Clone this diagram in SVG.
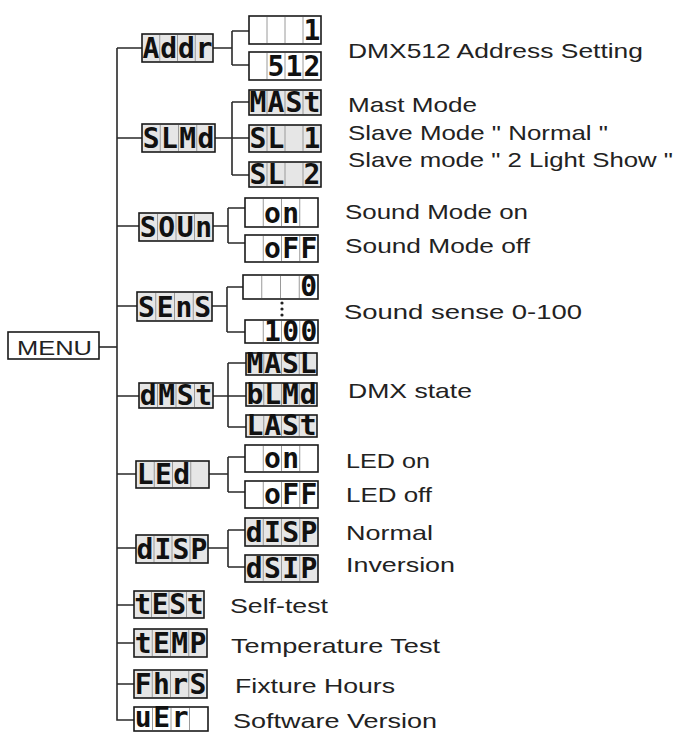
<svg xmlns="http://www.w3.org/2000/svg" width="680" height="733" viewBox="0 0 680 733">
<style>
.bg{fill:#fff}
.ln{stroke:#2a2a2a;stroke-width:1.6;fill:none}
.lcd{fill:#e6e6e6;stroke:#1a1a1a;stroke-width:1.6}
.lcdw{fill:#fff;stroke:#1a1a1a;stroke-width:1.6}
.dv{stroke:#9a9a9a;stroke-width:1}
.seg{font-family:"DejaVu Sans Mono","Liberation Mono",monospace;font-weight:bold;font-size:28px;fill:#111;text-anchor:middle}
.lab{font-family:"Liberation Sans",Arial,sans-serif;font-size:21px;fill:#222}
.menu{fill:#fff;stroke:#1a1a1a;stroke-width:1.6}
</style>
<rect class="bg" x="0" y="0" width="680" height="733"/>

<g id="connectors">
  <path class="ln" d="M117 48 V720 H134"/>
  <path class="ln" d="M99 347 H117"/>
  <path class="ln" d="M117 48 H142 M213 48 H232 M232 31 V65 M232 31 H249 M232 65 H249"/>
  <path class="ln" d="M117 138 H142 M215 138 H249 M232 102 V175 M232 102 H249 M232 175 H249"/>
  <path class="ln" d="M117 226 H139 M213 226 H228 M228 208 V243 M228 208 H245 M228 243 H245"/>
  <path class="ln" d="M117 306 H137 M212 306 H227 M227 287 V332 M227 287 H243 M227 332 H245"/>
  <path class="ln" d="M117 396 H139 M213 396 H246 M228 363 V427 M228 363 H246 M228 427 H246"/>
  <path class="ln" d="M117 474 H136 M209 474 H228 M228 457 V492 M228 457 H245 M228 492 H245"/>
  <path class="ln" d="M117 548 H136 M208 548 H228 M228 530 V567 M228 530 H245 M228 567 H245"/>
  <path class="ln" d="M117 605 H134 M117 643 H134 M117 684 H134"/>
</g>

<g id="menu">
  <rect class="menu" x="8" y="332" width="91" height="27"/>
  <text class="lab" x="17" y="355" font-size="23" textLength="75" lengthAdjust="spacingAndGlyphs">MENU</text>
</g>

<!-- Level 1 -->
<g id="addr">
  <rect class="lcd" x="142" y="34" width="71" height="28"/>
  <path class="dv" d="M159.75 35 V61 M177.5 35 V61 M195.25 35 V61"/>
  <text class="seg" y="58" x="150.9 168.6 186.4 204.1">Addr</text>
</g>
<g id="slmd">
  <rect class="lcd" x="142" y="124" width="73" height="28"/>
  <path class="dv" d="M160.25 125 V151 M178.5 125 V151 M196.75 125 V151"/>
  <text class="seg" y="148" x="151.1 169.4 187.6 205.9">SLMd</text>
</g>
<g id="soun">
  <rect class="lcd" x="139" y="213" width="74" height="28"/>
  <path class="dv" d="M157.5 214 V240 M176 214 V240 M194.5 214 V240"/>
  <text class="seg" y="237" x="148.3 166.8 185.3 203.8">SOUn</text>
</g>
<g id="sens">
  <rect class="lcd" x="137" y="292" width="75" height="29"/>
  <path class="dv" d="M155.75 293 V320 M174.5 293 V320 M193.25 293 V320"/>
  <text class="seg" y="317" x="146.4 165.1 183.9 202.6">SEnS</text>
</g>
<g id="dmst">
  <rect class="lcd" x="139" y="383" width="74" height="25"/>
  <path class="dv" d="M157.5 384 V407 M176 384 V407 M194.5 384 V407"/>
  <text class="seg" y="405" x="148.3 166.8 185.3 203.8" font-size="25">dMSt</text>
</g>
<g id="led">
  <rect class="lcd" x="136" y="461" width="73" height="27"/>
  <path class="dv" d="M154.25 462 V487 M172.5 462 V487 M190.75 462 V487"/>
  <text class="seg" y="484" x="145.1 163.4 181.6">LEd</text>
</g>
<g id="disp">
  <rect class="lcd" x="136" y="535" width="72" height="28"/>
  <path class="dv" d="M154 536 V562 M172 536 V562 M190 536 V562"/>
  <text class="seg" y="559" x="145 145 163 181 199">d ISP</text>
</g>
<g id="test">
  <rect class="lcd" x="134" y="591" width="70" height="27"/>
  <path class="dv" d="M151.5 592 V617 M169 592 V617 M186.5 592 V617"/>
  <text class="seg" y="614" x="142.8 160.3 177.8 195.3">tESt</text>
</g>
<g id="temp">
  <rect class="lcd" x="134" y="629" width="73" height="28"/>
  <path class="dv" d="M152.25 630 V656 M170.5 630 V656 M188.75 630 V656"/>
  <text class="seg" y="653" x="143.1 161.4 179.6 197.9">tEMP</text>
</g>
<g id="fhrs">
  <rect class="lcd" x="134" y="670" width="73" height="28"/>
  <path class="dv" d="M152.25 671 V697 M170.5 671 V697 M188.75 671 V697"/>
  <text class="seg" y="694" x="143.1 161.4 179.6 197.9">FhrS</text>
</g>
<g id="uer">
  <rect class="lcdw" x="134" y="707" width="74" height="24"/>
  <path class="dv" d="M152.5 708 V730 M171 708 V730 M189.5 708 V730"/>
  <text class="seg" y="727" font-size="23" x="143.3 161.8 180.3">uEr</text>
</g>

<!-- Level 2 -->
<g id="addr-1">
  <rect class="lcdw" x="249" y="16" width="72" height="28"/>
  <path class="dv" d="M267 17 V43 M285 17 V43 M303 17 V43"/>
  <text class="seg" y="40" x="312">1</text>
</g>
<g id="addr-512">
  <rect class="lcdw" x="249" y="52" width="72" height="28"/>
  <path class="dv" d="M267 53 V79 M285 53 V79 M303 53 V79"/>
  <text class="seg" y="76" x="276 294 312">512</text>
</g>
<g id="mast">
  <rect class="lcd" x="249" y="90" width="72" height="25"/>
  <path class="dv" d="M267 91 V114 M285 91 V114 M303 91 V114"/>
  <text class="seg" y="112" font-size="25" x="258 276 294 312">MASt</text>
</g>
<g id="sl1">
  <rect class="lcd" x="249" y="125" width="72" height="27"/>
  <path class="dv" d="M267 126 V151 M285 126 V151 M303 126 V151"/>
  <text class="seg" y="148" x="258 276 294 312">SL 1</text>
</g>
<g id="sl2">
  <rect class="lcd" x="249" y="162" width="72" height="25"/>
  <path class="dv" d="M267 163 V186 M285 163 V186 M303 163 V186"/>
  <text class="seg" y="184" font-size="25" x="258 276 294 312">SL 2</text>
</g>
<g id="soun-on">
  <rect class="lcdw" x="245" y="198" width="73" height="29"/>
  <path class="dv" d="M263.25 199 V226 M281.5 199 V226 M299.75 199 V226"/>
  <text class="seg" y="223" x="272.4 290.6">on</text>
</g>
<g id="soun-off">
  <rect class="lcdw" x="245" y="235" width="73" height="27"/>
  <path class="dv" d="M263.25 236 V261 M281.5 236 V261 M299.75 236 V261"/>
  <text class="seg" y="258" x="272.4 290.6 308.9">oFF</text>
</g>
<g id="sens-0">
  <rect class="lcdw" x="243" y="275" width="75" height="24"/>
  <path class="dv" d="M261.75 276 V298 M280.5 276 V298 M299.25 276 V298"/>
  <text class="seg" y="296" font-size="24" x="308.6">0</text>
</g>
<g id="sens-dots" fill="#222">
  <circle cx="282" cy="303" r="1.6"/>
  <circle cx="282" cy="309" r="1.6"/>
  <circle cx="282" cy="315" r="1.6"/>
</g>
<g id="sens-100">
  <rect class="lcdw" x="245" y="320" width="73" height="23"/>
  <path class="dv" d="M263.25 321 V342 M281.5 321 V342 M299.75 321 V342"/>
  <text class="seg" y="341" font-size="25" x="272.4 290.6 308.9">100</text>
</g>
<g id="masl">
  <rect class="lcd" x="246" y="353" width="71" height="22"/>
  <path class="dv" d="M263.75 354 V374 M281.5 354 V374 M299.25 354 V374"/>
  <text class="seg" y="373" font-size="23" x="254.9 272.6 290.4 308.1">MASL</text>
</g>
<g id="blmd">
  <rect class="lcd" x="246" y="383" width="71" height="23"/>
  <path class="dv" d="M263.75 384 V405 M281.5 384 V405 M299.25 384 V405"/>
  <text class="seg" y="404" font-size="23" x="254.9 272.6 290.4 308.1">bLMd</text>
</g>
<g id="last">
  <rect class="lcd" x="246" y="415" width="71" height="22"/>
  <path class="dv" d="M263.75 416 V436 M281.5 416 V436 M299.25 416 V436"/>
  <text class="seg" y="435" font-size="23" x="254.9 272.6 290.4 308.1">LASt</text>
</g>
<g id="led-on">
  <rect class="lcdw" x="245" y="445" width="73" height="27"/>
  <path class="dv" d="M263.25 446 V471 M281.5 446 V471 M299.75 446 V471"/>
  <text class="seg" y="468" x="272.4 290.6">on</text>
</g>
<g id="led-off">
  <rect class="lcdw" x="245" y="481" width="73" height="27"/>
  <path class="dv" d="M263.25 482 V507 M281.5 482 V507 M299.75 482 V507"/>
  <text class="seg" y="504" x="272.4 290.6 308.9">oFF</text>
</g>
<g id="disp-normal">
  <rect class="lcd" x="245" y="518" width="73" height="28"/>
  <path class="dv" d="M263.25 519 V545 M281.5 519 V545 M299.75 519 V545"/>
  <text class="seg" y="542" x="254.1 254.1 272.4 290.6 308.9">d ISP</text>
</g>
<g id="disp-inv">
  <rect class="lcd" x="245" y="555" width="73" height="27"/>
  <path class="dv" d="M263.25 556 V581 M281.5 556 V581 M299.75 556 V581"/>
  <text class="seg" y="578" x="254.1 272.4 272.4 290.6 308.9">dS IP</text>
</g>

<g id="labels">
  <text class="lab" x="348" y="58" textLength="295" lengthAdjust="spacingAndGlyphs">DMX512 Address Setting</text>
  <text class="lab" x="348" y="112" textLength="129" lengthAdjust="spacingAndGlyphs">Mast Mode</text>
  <text class="lab" x="348" y="140" textLength="260" lengthAdjust="spacingAndGlyphs">Slave Mode " Normal "</text>
  <text class="lab" x="348" y="167" textLength="325" lengthAdjust="spacingAndGlyphs">Slave mode " 2 Light Show "</text>
  <text class="lab" x="345" y="219" textLength="183" lengthAdjust="spacingAndGlyphs">Sound Mode on</text>
  <text class="lab" x="345" y="253" textLength="185" lengthAdjust="spacingAndGlyphs">Sound Mode off</text>
  <text class="lab" x="344" y="319" textLength="238" lengthAdjust="spacingAndGlyphs">Sound sense 0-100</text>
  <text class="lab" x="348" y="398" textLength="124" lengthAdjust="spacingAndGlyphs">DMX state</text>
  <text class="lab" x="346" y="468" textLength="84" lengthAdjust="spacingAndGlyphs">LED on</text>
  <text class="lab" x="346" y="502" textLength="86" lengthAdjust="spacingAndGlyphs">LED off</text>
  <text class="lab" x="346" y="540" textLength="87" lengthAdjust="spacingAndGlyphs">Normal</text>
  <text class="lab" x="346" y="572" textLength="109" lengthAdjust="spacingAndGlyphs">Inversion</text>
  <text class="lab" x="230" y="613" textLength="98" lengthAdjust="spacingAndGlyphs">Self-test</text>
  <text class="lab" x="231" y="653" textLength="209" lengthAdjust="spacingAndGlyphs">Temperature Test</text>
  <text class="lab" x="235" y="693" textLength="160" lengthAdjust="spacingAndGlyphs">Fixture Hours</text>
  <text class="lab" x="233" y="728" textLength="204" lengthAdjust="spacingAndGlyphs">Software Version</text>
</g>
</svg>
